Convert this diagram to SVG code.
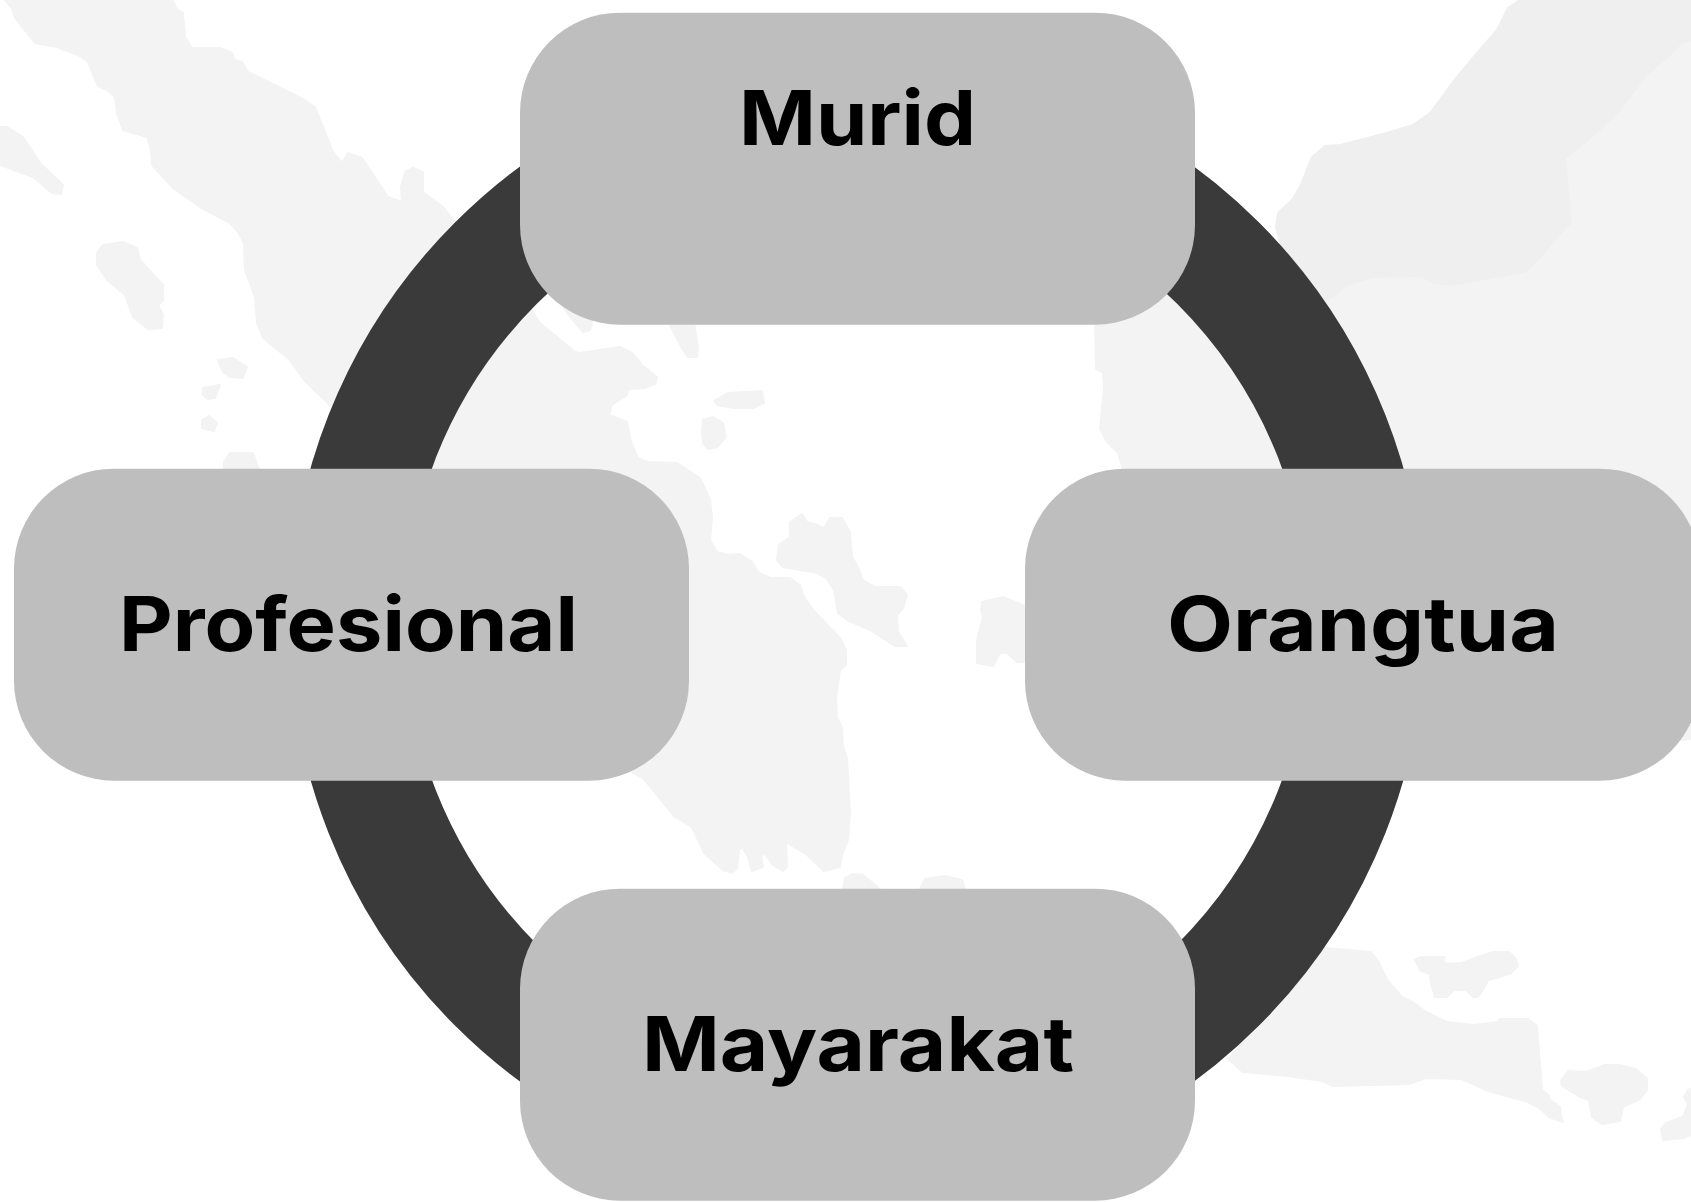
<svg xmlns="http://www.w3.org/2000/svg" width="1691" height="1202" viewBox="0 0 1691 1202">
<style>
.land{fill:#f3f3f3;stroke:#f3f3f3;stroke-width:2;stroke-linejoin:round}
.land2{fill:#efefef;stroke:#efefef;stroke-width:2;stroke-linejoin:round}
.box{fill:#bebebe}
.ring{fill:none;stroke:#3a3a3a;stroke-width:115.5}
.lbl{font-family:Inter,"Liberation Sans",sans-serif;font-weight:700;font-size:76px;fill:#000}
</style>
<rect width="1691" height="1202" fill="#ffffff"/>
<g id="map">
<polygon class="land" points="5,0 12,8 15,18 35,43 57,47 78,55 88,62 98,86 107,90 115,97 117,113 123,130 147,137 151,150 152,165 173,188 200,207 230,223 238,232 244,243 245,270 255,297 257,323 263,338 290,360 304,380 335,410 350,475 632,772 643,778 675,817 692,827 704,853 723,870 732,873 737,868 739,850 742,847 748,857 752,871 763,867 761,855 765,854 773,865 783,871 787,867 786,842 807,855 824,871 840,867 842,855 848,840 850,813 847,758 843,747 842,728 837,717 836,697 840,670 846,665 846,650 840,638 813,610 803,595 800,585 790,578 770,578 758,572 752,562 740,554 728,555 717,552 710,540 712,517 710,500 700,478 677,463 648,462 638,458 631,442 627,422 609,415 612,405 627,395 628,389 645,388 655,384 657,377 642,365 632,353 620,347 580,353 575,352 540,323 532,311 455,222 443,207 423,192 423,172 413,168 405,172 401,187 402,202 388,197 380,185 362,158 348,153 342,163 333,152 315,107 303,99 248,72 242,62 235,60 232,53 220,48 192,48 185,37 183,13 177,9 172,0"/>
<polygon class="land" points="0,127 7,127 23,137 40,163 63,185 61,194 52,193 33,177 0,165"/>
<polygon class="land" points="97,253 103,245 123,242 137,248 140,260 163,285 163,300 158,305 163,315 162,328 148,329 133,317 125,295 107,280 97,265"/>
<polygon class="land" points="218,360 233,358 247,367 243,378 230,377 223,372"/>
<polygon class="land" points="203,388 220,385 215,398 208,399 203,395"/>
<polygon class="land" points="202,420 209,416 217,423 214,431 202,428"/>
<polygon class="land" points="224,462 230,453 253,453 259,470 224,470"/>
<polygon class="land" points="560,300 565,310 575,323 583,332 590,330 592,323 590,300"/>
<polygon class="land" points="665,315 670,325 683,350 688,357 697,357 698,348 693,315"/>
<polygon class="land" points="714,401 728,393 762,391 764,403 753,408 733,408 717,405"/>
<polygon class="land" points="703,420 713,417 723,423 726,437 717,447 708,449 703,443 702,430"/>
<polygon class="land" points="790,522 802,514 807,522 817,525 824,528 830,518 842,518 850,532 852,557 858,567 863,580 875,587 900,587 907,595 903,608 897,615 898,632 907,646 895,646 870,630 847,620 838,613 834,590 827,579 817,573 783,567 777,560 779,545 790,537"/>
<polygon class="land" points="982,602 1003,597 1030,608 1030,662 1017,662 1007,653 1000,653 993,666 977,663 977,640 983,617 981,610"/>
<polygon class="land" points="842,895 845,878 853,874 863,875 887,895"/>
<polygon class="land" points="917,895 925,879 945,876 962,880 967,895"/>
<polygon class="land2" points="1520,0 1508,8 1497,30 1477,53 1453,82 1430,113 1413,125 1387,133 1340,145 1325,146 1312,157 1300,187 1292,200 1278,213 1276,227 1280,243 1310,290 1340,320 1691,320 1691,0"/>
<polygon class="land" points="1095,320 1096,369 1103,373 1104,388 1100,429 1107,442 1118,453 1123,470 1670,741 1691,739 1691,42 1682,45 1673,55 1647,77 1620,113 1597,135 1567,159 1573,223 1560,237 1540,260 1527,273 1453,287 1433,285 1420,278 1373,279 1348,287 1328,302 1200,250"/>
<polygon class="land" points="1324,948 1371,952 1378,961 1388,981 1402,997 1414,1003 1426,1012 1447,1022 1474,1025 1498,1022 1500,1019 1528,1019 1537,1026 1542,1090 1549,1095 1550,1100 1560,1107 1561,1116 1563,1122 1549,1117 1538,1107 1528,1102 1488,1091 1471,1083 1461,1079 1426,1078 1409,1084 1333,1086 1322,1081 1288,1076 1243,1072 1228,1059"/>
<polygon class="land" points="1415,960 1421,957 1445,957 1443,961 1447,964 1462,963 1478,957 1493,952 1509,952 1516,959 1518,966 1511,973 1497,978 1488,980 1483,990 1478,997 1473,997 1466,990 1454,990 1447,997 1435,997 1431,984 1430,974 1421,971"/>
<polygon class="land" points="1561,1081 1568,1071 1586,1072 1605,1065 1619,1065 1636,1069 1647,1079 1647,1090 1640,1099 1623,1107 1620,1121 1602,1124 1592,1117 1589,1100 1580,1097 1562,1086"/>
<polygon class="land" points="1661,1129 1666,1123 1683,1117 1688,1104 1684,1097 1688,1090 1691,1089 1691,1135 1683,1138 1663,1140"/>
</g>
<g id="connectors">
<path id="murid-orangtua" class="ring" d="M857,113.5A510.5,510.5 0 0 1 1367.5,624"/>
<path id="orangtua-masyarakat" class="ring" d="M1367.5,624A510.5,510.5 0 0 1 857,1134.5"/>
<path id="masyarakat-profesional" class="ring" d="M857,1134.5A510.5,510.5 0 0 1 346.5,624"/>
<path id="profesional-murid" class="ring" d="M346.5,624A510.5,510.5 0 0 1 857,113.5"/>
</g>
<g id="node-murid">
<rect class="box" x="520" y="12.7" width="675" height="312" rx="100" ry="100"/>
<text class="lbl" x="739" y="145" textLength="237" lengthAdjust="spacingAndGlyphs">Murid</text>
</g>
<g id="node-profesional">
<rect class="box" x="14" y="468.7" width="675" height="312" rx="100" ry="100"/>
<text class="lbl" x="119" y="651" textLength="459" lengthAdjust="spacingAndGlyphs">Profesional</text>
</g>
<g id="node-orangtua">
<rect class="box" x="1025" y="468.7" width="675" height="312" rx="100" ry="100"/>
<text class="lbl" x="1167" y="651" textLength="392" lengthAdjust="spacingAndGlyphs">Orangtua</text>
</g>
<g id="node-mayarakat">
<rect class="box" x="520" y="888.7" width="675" height="312" rx="100" ry="100"/>
<text class="lbl" x="642" y="1071" textLength="432" lengthAdjust="spacingAndGlyphs">Mayarakat</text>
</g>
</svg>
